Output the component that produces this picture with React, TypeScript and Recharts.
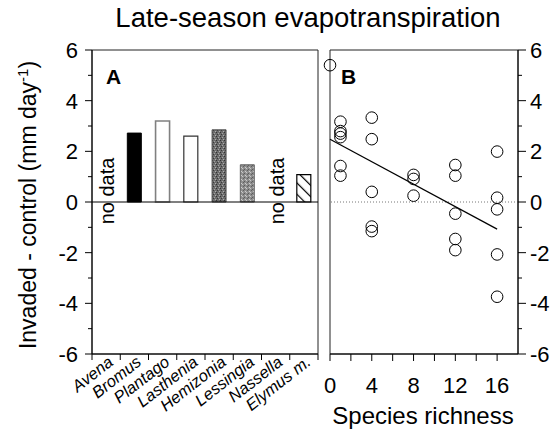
import { BarChart, Bar, Cell, XAxis, YAxis, ReferenceLine, ReferenceDot, ReferenceArea, ScatterChart, Scatter } from "recharts"

const FONT = '"Liberation Sans", Arial, Helvetica, sans-serif'

// panel A: invasion effect per invader species
const species = ["Avena", "Bromus", "Plantago", "Lasthenia", "Hemizonia", "Lessingia", "Nassella", "Elymus m."]
const speciesEffect = [null, 2.72, 3.2, 2.6, 2.85, 1.47, null, 1.08]
const noDataSpecies = ["Avena", "Nassella"]

// panel B: invasion effect vs resident species richness
const richness = [0, 1, 1, 1, 1, 1, 1, 4, 4, 4, 4, 4, 8, 8, 8, 12, 12, 12, 12, 12, 16, 16, 16, 16, 16]
const richnessEffect = [
  5.4, 3.17, 2.8, 2.7, 2.56, 1.42, 1.04, 3.33, 2.48, 0.4, -0.97, -1.15, 1.07, 0.91, 0.25, 1.46, 1.04, -0.46, -1.46,
  -1.9, 1.99, 0.17, -0.29, -2.07, -3.74,
]
const fitX = [0, 16]
const fitY = [2.48, -1.07]

const yTicks = [-6, -5, -4, -3, -2, -1, 0, 1, 2, 3, 4, 5, 6]
const richnessTicks = [0, 2, 4, 6, 8, 10, 12, 14, 16]

const barStyles: Record<string, { fill: string; stroke: string; width: number }> = {
  Bromus: { fill: "#000", stroke: "#000", width: 1 },
  Plantago: { fill: "#fff", stroke: "#808080", width: 1.6 },
  Lasthenia: { fill: "#fff", stroke: "#333", width: 1.2 },
  Hemizonia: { fill: "url(#stippleDark)", stroke: "#555", width: 1 },
  Lessingia: { fill: "url(#stippleLight)", stroke: "#666", width: 1 },
  "Elymus m.": { fill: "url(#hatch)", stroke: "#000", width: 1.2 },
}

const barData = species.map((name, i) => ({ name, value: speciesEffect[i] }))
const scatterData = richness.map((x, i) => ({ x, y: richnessEffect[i] }))

function LeftTick({ x, y, payload }: any) {
  const v = payload.value
  const major = v % 2 === 0
  const ax = x + 14
  return (
    <g>
      <line x1={ax} x2={ax - (major ? 7 : 4)} y1={y} y2={y} stroke="#000" />
      {major && (
        <text x={x} y={y} dy="0.36em" textAnchor="end" fontSize={22} fontFamily={FONT} fill="#000">
          {v}
        </text>
      )}
    </g>
  )
}

function RightTick({ x, y, payload }: any) {
  const v = payload.value
  const major = v % 2 === 0
  const ax = x - 12
  return (
    <g>
      <line x1={ax} x2={ax + (major ? 8 : 4)} y1={y} y2={y} stroke="#000" />
      {major && (
        <text x={x} y={y} dy="0.36em" textAnchor="start" fontSize={22} fontFamily={FONT} fill="#000">
          {v}
        </text>
      )}
    </g>
  )
}

function RichnessTick({ x, y, payload }: any) {
  const v = payload.value
  const ay = y - 23
  return (
    <g>
      <line x1={x} x2={x} y1={ay} y2={ay + 7} stroke="#000" />
      {v % 4 === 0 && (
        <text x={x} y={y} dy="0.71em" textAnchor="middle" fontSize={22} fontFamily={FONT} fill="#000">
          {v}
        </text>
      )}
    </g>
  )
}

function SpeciesTick({ x, y, payload, index }: any) {
  const half = payload.offset || 14.1
  const ay = y - 6
  return (
    <g>
      <line x1={x - half} x2={x - half} y1={ay} y2={ay + 6} stroke="#000" />
      {index === species.length - 1 && <line x1={x + half} x2={x + half} y1={ay} y2={ay + 6} stroke="#000" />}
      <text
        transform={`translate(${x + 8},${y + 4}) rotate(-38)`}
        textAnchor="end"
        fontStyle="italic"
        fontSize={16.5}
        fontFamily={FONT}
        fill="#000"
      >
        {payload.value}
      </text>
    </g>
  )
}

function NoData({ cx, cy }: any) {
  return (
    <text
      transform={`translate(${cx + 8},${cy - 11}) rotate(-90)`}
      textAnchor="middle"
      fontSize={20}
      fontFamily={FONT}
      fill="#000"
    >
      no data
    </text>
  )
}

function Patterns() {
  return (
    <svg width={0} height={0} style={{ position: "absolute" }}>
      <defs>
        <pattern id="stippleDark" width={4} height={4} patternUnits="userSpaceOnUse">
          <rect width={4} height={4} fill="#6c6c6c" />
          <rect x={0} y={0} width={1} height={1} fill="#333" />
          <rect x={2} y={1} width={1} height={1} fill="#a5a5a5" />
          <rect x={1} y={2} width={1} height={1} fill="#3a3a3a" />
          <rect x={3} y={3} width={1} height={1} fill="#b0b0b0" />
        </pattern>
        <pattern id="stippleLight" width={4} height={4} patternUnits="userSpaceOnUse">
          <rect width={4} height={4} fill="#8e8e8e" />
          <rect x={0} y={1} width={1} height={1} fill="#5a5a5a" />
          <rect x={2} y={0} width={1} height={1} fill="#c8c8c8" />
          <rect x={3} y={2} width={1} height={1} fill="#606060" />
          <rect x={1} y={3} width={1} height={1} fill="#cdcdcd" />
        </pattern>
        <pattern id="hatch" width={8} height={8} patternUnits="userSpaceOnUse" patternTransform="rotate(-45)">
          <rect width={8} height={8} fill="#fff" />
          <line x1={0} y1={0} x2={0} y2={8} stroke="#000" strokeWidth={2.4} />
        </pattern>
      </defs>
    </svg>
  )
}

export default function App() {
  return (
    <div style={{ position: "absolute", left: 0, top: 0, width: 560, height: 434, background: "#fff", fontFamily: FONT }}>
      <Patterns />
      <div style={{ position: "absolute", left: 0, top: 0 }}>
        <BarChart width={330} height={434} data={barData} margin={{ top: 50, right: 12, bottom: 0, left: 0 }} barCategoryGap="25%">
          <XAxis
            dataKey="name"
            height={80}
            interval={0}
            tickSize={6}
            tickMargin={0}
            tickLine={false}
            tick={SpeciesTick}
            axisLine={{ stroke: "#000" }}
          />
          <YAxis
            type="number"
            domain={[-6, 6]}
            ticks={yTicks}
            interval={0}
            width={92}
            tickSize={8}
            tickMargin={6}
            tickLine={false}
            tick={LeftTick}
            axisLine={{ stroke: "#000" }}
          />
          <ReferenceArea y1={-6} y2={6} fill="none" stroke="#222" strokeWidth={1} ifOverflow="visible" />
          <Bar dataKey="value" isAnimationActive={false}>
            {barData.map((d) => {
              const s = barStyles[d.name] || { fill: "none", stroke: "none", width: 0 }
              return <Cell key={d.name} fill={s.fill} stroke={s.stroke} strokeWidth={s.width} />
            })}
          </Bar>
          <ReferenceLine y={0} stroke="#000" strokeWidth={1} />
          {noDataSpecies.map((n) => (
            <ReferenceDot key={n} x={n} y={0} r={0} shape={NoData} />
          ))}
        </BarChart>
      </div>
      <div style={{ position: "absolute", left: 320, top: 0 }}>
        <ScatterChart width={240} height={434} margin={{ top: 50, right: 0, bottom: 0, left: 10 }}>
          <XAxis
            dataKey="x"
            type="number"
            domain={[0, 18]}
            ticks={richnessTicks}
            interval={0}
            height={80}
            tickSize={8}
            tickMargin={15}
            tickLine={false}
            tick={RichnessTick}
            axisLine={{ stroke: "#000" }}
          />
          <YAxis
            dataKey="y"
            type="number"
            orientation="right"
            domain={[-6, 6]}
            ticks={yTicks}
            interval={0}
            width={42}
            tickSize={8}
            tickMargin={4}
            tickLine={false}
            tick={RightTick}
            axisLine={{ stroke: "#000" }}
          />
          <ReferenceArea y1={-6} y2={6} fill="none" stroke="#222" strokeWidth={1} ifOverflow="visible" />
          <ReferenceLine y={0} stroke="#777" strokeDasharray="1 2" />
          <ReferenceLine
            segment={[
              { x: fitX[0], y: fitY[0] },
              { x: fitX[1], y: fitY[1] },
            ]}
            stroke="#000"
            strokeWidth={1.2}
          />
          <Scatter
            data={scatterData}
            isAnimationActive={false}
            shape={(p: any) => <circle cx={p.cx} cy={p.cy} r={5.8} fill="none" stroke="#000" strokeWidth={1} />}
          />
        </ScatterChart>
      </div>
      <svg width={560} height={434} style={{ position: "absolute", left: 0, top: 0, pointerEvents: "none" }}>
        <text x={308} y={27} textAnchor="middle" fontSize={27.5} fontFamily={FONT} fill="#000">
          Late-season evapotranspiration
        </text>
        <text transform="translate(36,205) rotate(-90)" textAnchor="middle" fontSize={23} fontFamily={FONT} fill="#000">
          Invaded - control (mm day<tspan dy={-8} fontSize={15}>-1</tspan>
          <tspan dy={8}>)</tspan>
        </text>
        <text x={106} y={84} fontSize={21} fontWeight="bold" fontFamily={FONT} fill="#000">
          A
        </text>
        <text x={341} y={84} fontSize={21} fontWeight="bold" fontFamily={FONT} fill="#000">
          B
        </text>
        <text x={423} y={424} textAnchor="middle" fontSize={24} fontFamily={FONT} fill="#000">
          Species richness
        </text>
      </svg>
    </div>
  )
}
